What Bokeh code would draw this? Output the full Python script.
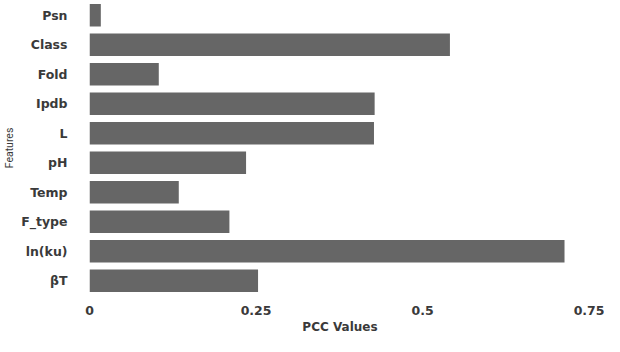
from bokeh.plotting import figure
from bokeh.models import FactorRange, Range1d, FixedTicker, ColumnDataSource
from bokeh.embed import file_html
from bokeh.resources import INLINE

features = ["Psn", "Class", "Fold", "Ipdb", "L", "pH", "Temp", "F_type", "ln(ku)", "βT"]
pcc_values = [0.017, 0.541, 0.104, 0.428, 0.427, 0.235, 0.134, 0.210, 0.713, 0.253]
x_ticks = [0, 0.25, 0.5, 0.75]
x_tick_labels = ["0", "0.25", "0.5", "0.75"]

factors = list(reversed(features))
src = ColumnDataSource(dict(feature=features, pcc=pcc_values))

p = figure(width=604, height=336, output_backend="svg", toolbar_location=None,
           y_range=FactorRange(*factors, range_padding=0),
           x_range=Range1d(0, 0.752),
           min_border_left=86, min_border_right=14, min_border_top=0, min_border_bottom=0)

p.hbar(y="feature", right="pcc", left=0, height=0.77, source=src,
       fill_color="#666666", line_color=None)

p.outline_line_color = None
p.xgrid.grid_line_color = None
p.ygrid.grid_line_color = None

for ax in (p.xaxis, p.yaxis):
    ax.axis_line_color = None
    ax.major_tick_line_color = None
    ax.minor_tick_line_color = None
    ax.major_label_text_font = "DejaVu Sans"
    ax.major_label_text_font_style = "bold"
    ax.major_label_text_font_size = "12.5px"
    ax.major_label_text_color = "#3a3a3a"
    ax.axis_label_text_font = "DejaVu Sans"
    ax.axis_label_text_font_style = "bold"
    ax.axis_label_text_font_size = "12px"
    ax.axis_label_text_color = "#3a3a3a"

p.xaxis.ticker = FixedTicker(ticks=x_ticks)
p.xaxis.major_label_overrides = {t: l for t, l in zip(x_ticks, x_tick_labels)}
p.xaxis.axis_label = "PCC Values"
p.xaxis.major_label_standoff = 4
p.xaxis.axis_label_standoff = 2

p.yaxis.axis_label = "Features"
p.yaxis.major_label_standoff = 16
p.yaxis.axis_label_standoff = 2
p.yaxis.axis_label_text_font = "Roboto"
p.yaxis.axis_label_text_font_size = "10.5px"
p.yaxis.axis_label_text_font_style = "normal"

open("out.html", "w").write(file_html(p, INLINE))
